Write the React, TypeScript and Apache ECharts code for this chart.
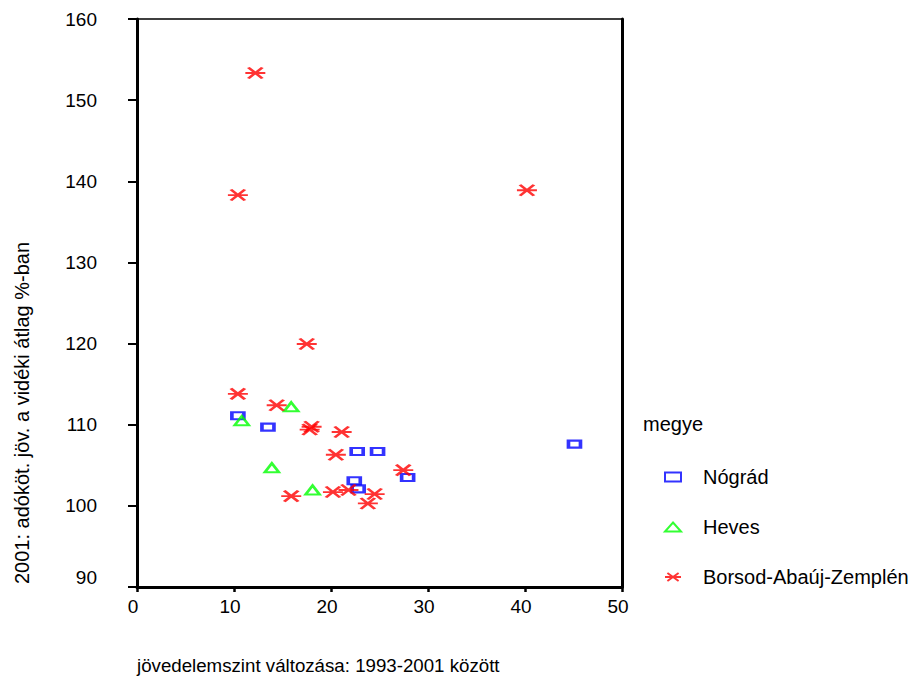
import React, { useEffect, useRef } from "react";
import * as echarts from "echarts";

// Categories (legend order)
const seriesNames = ["Nógrád", "Heves", "Borsod-Abaúj-Zemplén"];

// [jövedelemszint változása, 2001: adóköt. jöv. %]
const nogradData: number[][] = [
  [10.4, 111.1],
  [13.5, 109.7],
  [22.7, 106.7],
  [24.8, 106.7],
  [22.4, 103.1],
  [22.8, 102.1],
  [27.9, 103.5],
  [45.1, 107.6],
];

const hevesData: number[][] = [
  [15.9, 112.2],
  [10.8, 110.5],
  [13.9, 104.7],
  [18.1, 101.95],
];

const borsodData: number[][] = [
  [12.2, 153.35],
  [10.4, 138.3],
  [40.2, 138.9],
  [17.5, 119.95],
  [10.4, 113.8],
  [14.4, 112.4],
  [17.8, 109.4],
  [18.0, 109.75],
  [21.1, 109.1],
  [20.5, 106.3],
  [27.45, 104.4],
  [15.9, 101.2],
  [20.2, 101.7],
  [21.8, 101.95],
  [24.5, 101.45],
  [23.8, 100.3],
];

const xTicks = { min: 0, max: 50, interval: 10 };
const yTicks = { min: 90, max: 160, interval: 10 };

const xTitle = "jövedelemszint változása: 1993-2001 között";
const yTitle = "2001: adóköt. jöv. a vidéki átlag %-ban";
const legendTitle = "megye";

const FONT = '"Liberation Sans", Arial, sans-serif';
const STAR = "path://M0,5L20,5M3,0L17,10M3,10L17,0";

export default function App() {
  const ref = useRef<HTMLDivElement>(null);

  useEffect(() => {
    if (!ref.current) return;
    const chart = echarts.init(ref.current, undefined, { renderer: "svg" });
    const axisLineStyle = { color: "#000", width: 3 };
    chart.setOption({
      animation: false,
      textStyle: { fontFamily: FONT, color: "#000" },
      grid: {
        left: 137,
        top: 19,
        right: 292,
        bottom: 90,
        show: true,
        borderColor: "#000",
        borderWidth: 1.5,
        backgroundColor: "transparent",
      },
      xAxis: {
        type: "value",
        min: xTicks.min,
        max: xTicks.max,
        interval: xTicks.interval,
        axisLine: { show: true, onZero: false, lineStyle: axisLineStyle },
        axisTick: { show: true, inside: false, length: 5, lineStyle: { color: "#000", width: 2.5 } },
        axisLabel: {
          fontSize: 19,
          fontFamily: FONT,
          color: "#000",
          margin: 10,
          padding: [0, 8, 0, 0],
        },
        splitLine: { show: false },
      },
      yAxis: [
        {
          type: "value",
          min: yTicks.min,
          max: yTicks.max,
          interval: yTicks.interval,
          axisLine: { show: true, onZero: false, lineStyle: axisLineStyle },
          axisTick: { show: true, inside: false, length: 9, lineStyle: { color: "#000", width: 2 } },
          axisLabel: {
            fontSize: 19,
            fontFamily: FONT,
            color: "#000",
            margin: 40,
            formatter: (v: number) => (v === yTicks.min ? "{up|" + v + "}" : String(v)),
            rich: {
              up: { fontSize: 19, fontFamily: FONT, color: "#000", padding: [0, 0, 20, 0] },
            },
          },
          splitLine: { show: false },
        },
        {
          type: "value",
          position: "right",
          min: yTicks.min,
          max: yTicks.max,
          interval: yTicks.interval,
          axisLine: { show: true, onZero: false, lineStyle: axisLineStyle },
          axisTick: { show: false },
          axisLabel: { show: false },
          splitLine: { show: false },
        },
      ],
      legend: {
        orient: "vertical",
        left: 659,
        top: 462,
        itemWidth: 16,
        itemHeight: 9,
        itemGap: 30,
        selectedMode: false,
        textStyle: { fontSize: 20, fontFamily: FONT, color: "#000", padding: [0, 0, 0, 17] },
        data: seriesNames,
      },
      graphic: [
        {
          type: "text",
          left: 643,
          top: 414,
          style: { text: legendTitle, font: "20px " + FONT, fill: "#000" },
        },
        {
          type: "text",
          x: 137,
          y: 665,
          style: {
            text: xTitle,
            font: "18.7px " + FONT,
            fill: "#000",
            textAlign: "left",
            textVerticalAlign: "middle",
          },
        },
        {
          type: "text",
          x: 22,
          y: 584,
          rotation: Math.PI / 2,
          style: {
            text: yTitle,
            font: "20px " + FONT,
            fill: "#000",
            textAlign: "left",
            textVerticalAlign: "middle",
          },
        },
      ],
      series: [
        {
          name: seriesNames[0],
          type: "scatter",
          symbol: "rect",
          symbolSize: [12, 7],
          itemStyle: { color: "rgba(0,0,0,0)", borderColor: "#0000ff", borderWidth: 2.8 },
          data: nogradData,
          z: 3,
        },
        {
          name: seriesNames[1],
          type: "scatter",
          symbol: "triangle",
          symbolSize: [14, 9],
          itemStyle: { color: "rgba(0,0,0,0)", borderColor: "#00ff00", borderWidth: 2.5 },
          data: hevesData,
          z: 3,
        },
        {
          name: seriesNames[2],
          type: "scatter",
          symbol: STAR,
          symbolSize: [20, 11],
          itemStyle: { color: "rgba(0,0,0,0)", borderColor: "#ff0000", borderWidth: 2.5 },
          data: borsodData,
          z: 3,
        },
      ],
    });
    return () => chart.dispose();
  }, []);

  return (
    <div
      ref={ref}
      style={{ position: "fixed", left: 0, top: 0, width: 914, height: 677, background: "#fff" }}
    />
  );
}
